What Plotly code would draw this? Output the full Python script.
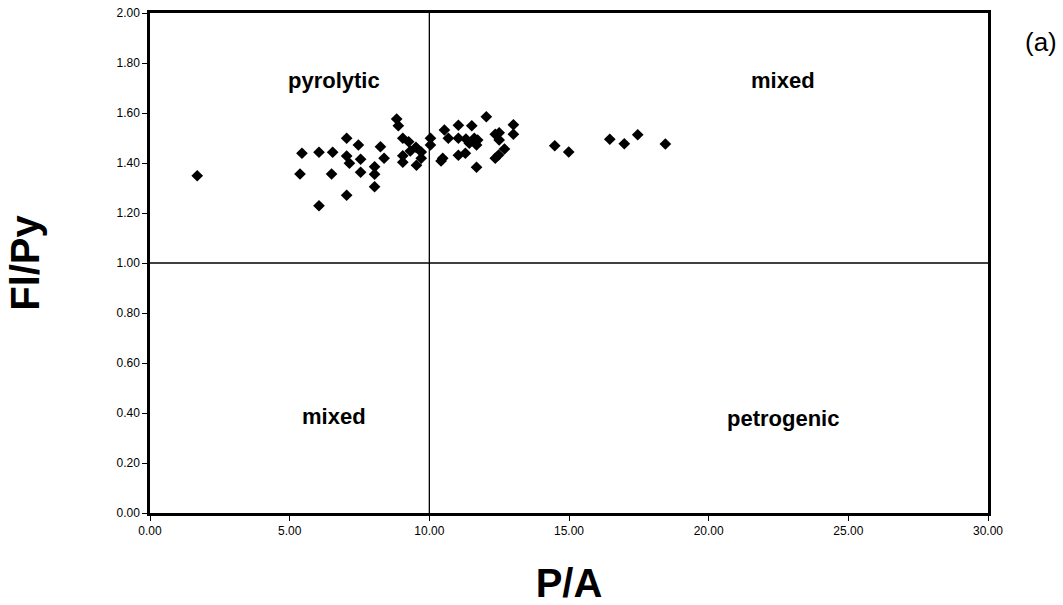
import plotly.graph_objects as go

pa = [1.69, 5.44, 5.37, 6.05, 6.05, 6.54, 6.50, 7.04, 7.04, 7.14, 7.04, 7.46, 7.54, 7.54,
      8.04, 8.04, 8.04, 8.25, 8.38, 8.83, 8.89, 9.05, 9.05, 9.05, 9.26, 9.32, 9.52, 9.54,
      9.71, 9.71, 10.04, 10.04,
      10.54, 10.68, 10.48, 10.42, 11.04, 11.04, 11.04, 11.29, 11.52, 11.31, 11.43, 11.61,
      11.73, 11.69, 11.69, 12.04, 12.36, 12.50, 12.50, 12.36, 12.48, 12.69, 13.01, 13.01,
      14.49, 14.99, 16.46, 16.98, 17.46, 18.45]
flpy = [1.349, 1.439, 1.356, 1.443, 1.229, 1.443, 1.356, 1.499, 1.428, 1.399, 1.271, 1.472,
        1.415, 1.363, 1.385, 1.355, 1.305, 1.465, 1.419, 1.576, 1.549, 1.499, 1.429, 1.403,
        1.485, 1.448, 1.463, 1.391, 1.444, 1.419, 1.499, 1.472,
        1.532, 1.499, 1.419, 1.408, 1.551, 1.499, 1.431, 1.439, 1.549, 1.496, 1.479, 1.499,
        1.492, 1.472, 1.383, 1.585, 1.515, 1.521, 1.492, 1.419, 1.432, 1.456, 1.553, 1.515,
        1.469, 1.444, 1.495, 1.477, 1.513, 1.476]

region_labels = ["pyrolytic", "mixed", "mixed", "petrogenic"]
region_x = [6.6, 22.65, 6.6, 22.65]
region_y = [1.732, 1.732, 0.385, 0.38]

x_ticks = [0, 5, 10, 15, 20, 25, 30]
y_ticks = [0, 0.2, 0.4, 0.6, 0.8, 1.0, 1.2, 1.4, 1.6, 1.8, 2.0]

FONT = "Liberation Sans, Arial, sans-serif"

fig = go.Figure()
fig.add_trace(go.Scatter(
    x=pa, y=flpy, mode="markers",
    marker=dict(symbol="diamond", size=9, color="black"),
    showlegend=False, hoverinfo="skip"))

fig.add_shape(type="line", x0=10, x1=10, y0=0, y1=2, xref="x", yref="y",
              line=dict(color="black", width=1.3))
fig.add_shape(type="line", x0=0, x1=30, y0=1, y1=1, xref="x", yref="y",
              line=dict(color="black", width=1.3))

for t, x, y in zip(region_labels, region_x, region_y):
    fig.add_annotation(x=x, y=y, text=f"<b>{t}</b>", showarrow=False, xref="x", yref="y",
                       font=dict(family=FONT, size=22, color="black"))

fig.add_annotation(x=1.063, y=0.942, xref="paper", yref="paper", text="(a)", showarrow=False,
                   xanchor="center", yanchor="middle",
                   font=dict(family=FONT, size=26, color="black"))

fig.update_xaxes(range=[0, 30], tickvals=x_ticks, ticktext=[f"{v:.2f}" for v in x_ticks],
                 showgrid=False, zeroline=False, showline=True, linecolor="black",
                 linewidth=2.5, mirror=True, ticks="outside", ticklen=5, tickcolor="black",
                 tickfont=dict(family=FONT, size=12, color="black"), automargin=False,
                 title=dict(text="<b>P/A</b>", font=dict(family=FONT, size=40, color="black"),
                            standoff=40))
fig.update_yaxes(range=[0, 2], tickvals=y_ticks, ticktext=[f"{v:.2f}" for v in y_ticks],
                 showgrid=False, zeroline=False, showline=True, linecolor="black",
                 linewidth=2.5, mirror=True, ticks="outside", ticklen=5, tickcolor="black",
                 tickfont=dict(family=FONT, size=12, color="black"), automargin=False,
                 title=dict(text="<b>Fl/Py</b>", font=dict(family=FONT, size=40, color="black"),
                            standoff=65))

fig.update_layout(width=1063, height=605, plot_bgcolor="white", paper_bgcolor="white",
                  margin=dict(l=150, r=75, t=13, b=92))

fig.write_html("out.html")
